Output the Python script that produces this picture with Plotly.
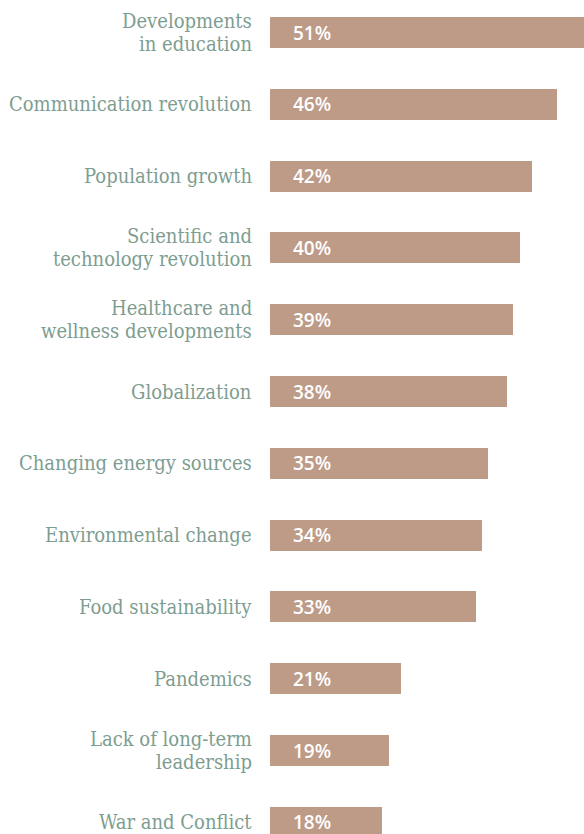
import plotly.graph_objects as go

categories = [
    "Developments<br>in education",
    "Communication revolution",
    "Population growth",
    "Scientific and<br>technology revolution",
    "Healthcare and<br>wellness developments",
    "Globalization",
    "Changing energy sources",
    "Environmental change",
    "Food sustainability",
    "Pandemics",
    "Lack of long-term<br>leadership",
    "War and Conflict",
]
values = [51, 46, 42, 40, 39, 38, 35, 34, 33, 21, 19, 18]
value_labels = [f"{v}%" for v in values]

BAR = "#bd9b87"
LABEL = "#7d9d90"
LINE_H = 23

fig = go.Figure(go.Bar(
    x=values, y=categories, orientation="h",
    marker=dict(color=BAR, line=dict(width=0)),
    width=0.43, hoverinfo="skip",
))

ann = []
for c, t in zip(categories, value_labels):
    ann.append(dict(x=0, y=c, xref="x", yref="y", text=t, showarrow=False,
                    xanchor="left", yanchor="middle", xshift=21,
                    font=dict(family="Open Sans", size=19, color="white", weight=600)))
    lines = c.split("<br>")
    n = len(lines)
    for k, line in enumerate(lines):
        ann.append(dict(x=0, y=c, xref="paper", yref="y", text=line, showarrow=False,
                        xanchor="right", yanchor="middle", xshift=-16, align="right",
                        yshift=-(k - (n - 1) / 2) * LINE_H,
                        font=dict(family="DejaVu Serif Condensed", size=20, color=LABEL)))

fig.update_layout(
    width=584, height=834,
    margin=dict(l=270, r=0, t=0, b=0),
    paper_bgcolor="white", plot_bgcolor="white",
    showlegend=False,
    xaxis=dict(range=[0, 50.3], visible=False, fixedrange=True),
    yaxis=dict(range=[11.163, -0.453], visible=False, fixedrange=True),
    annotations=ann,
    bargap=0,
)
fig.write_html("out.html", config={"displayModeBar": False},
               post_script="document.body.style.margin='0';document.body.style.overflow='hidden';")
